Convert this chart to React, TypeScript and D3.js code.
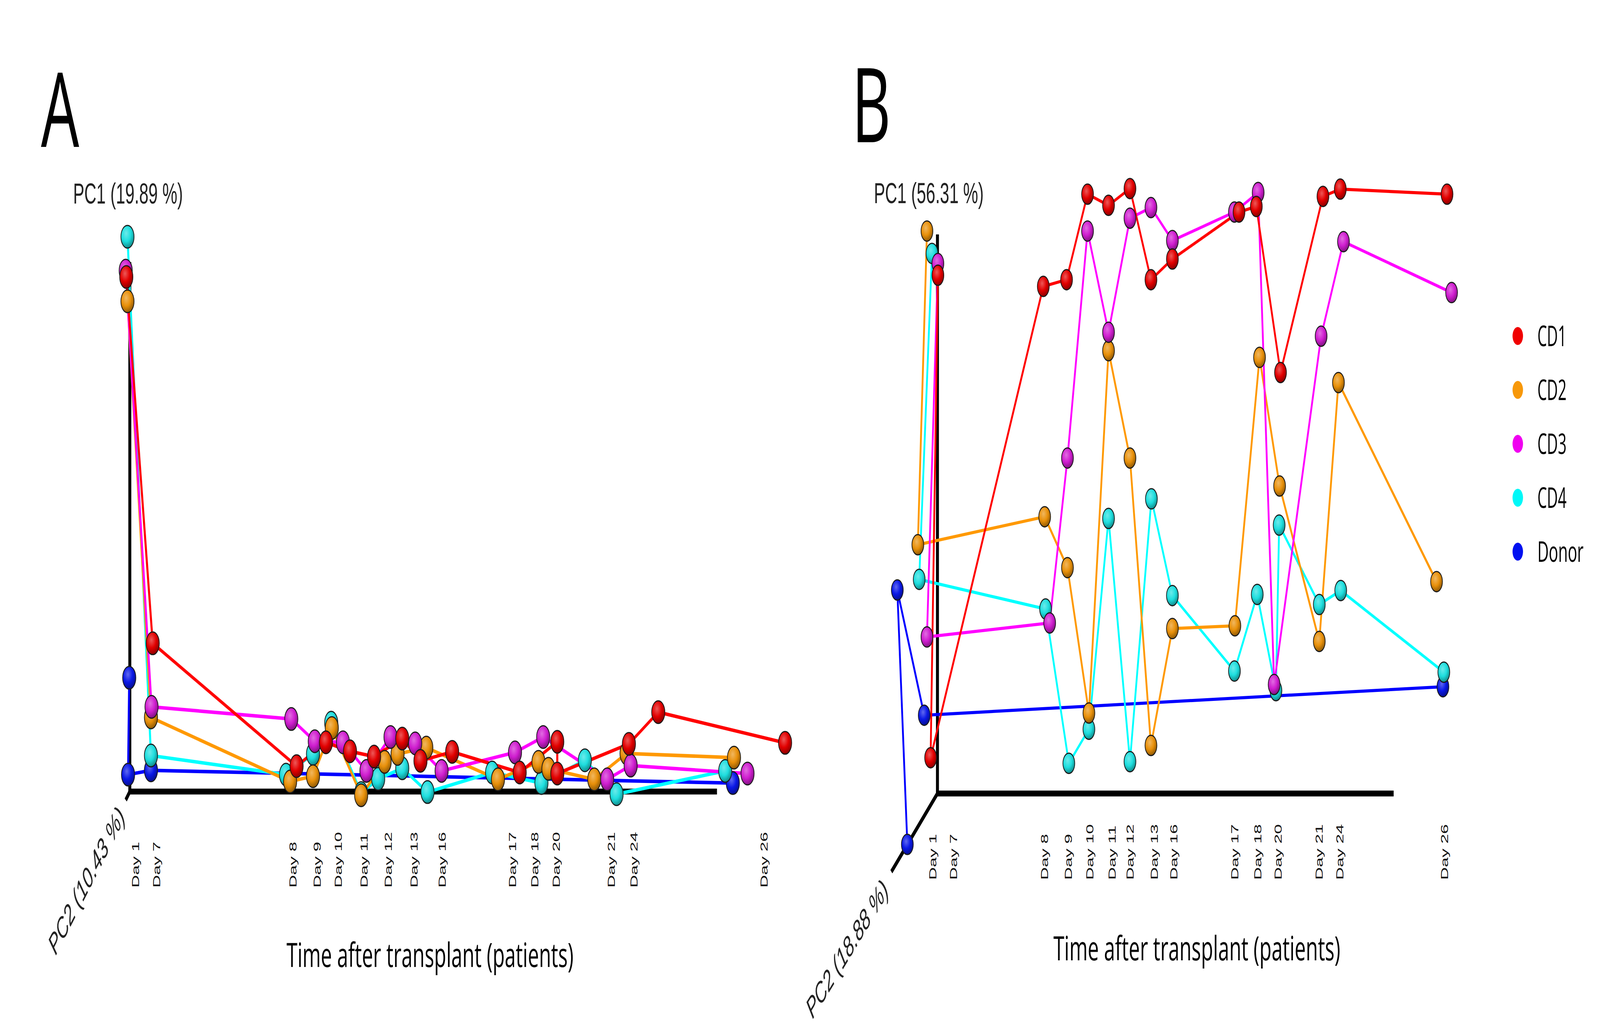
import React from 'react'
import * as d3 from 'd3'

const W = 7025
const H = 2644

// series names and colours
const seriesNames = ['CD1', 'CD2', 'CD3', 'CD4', 'Donor']
const lineColors = ['#ff0000', '#ff9900', '#ff00ff', '#00ffff', '#0000ff']
const markerColors = ['#e20000', '#e8900a', '#d01ed0', '#1edede', '#0a18e6']
const legendColors = ['#f00000', '#f7980a', '#f000f0', '#00f8f8', '#0010f0']

// day tick labels (same for both panels), positions along the time axis
const dayLabels = ['Day 1', 'Day 7', 'Day 8', 'Day 9', 'Day 10', 'Day 11', 'Day 12', 'Day 13', 'Day 16', 'Day 17', 'Day 18', 'Day 20', 'Day 21', 'Day 24', 'Day 26']
const dayPosA = [1.0, 4.6, 27.8, 31.9, 35.5, 39.9, 44.0, 48.4, 53.2, 65.2, 69.0, 72.6, 82.0, 85.9, 108.0]
const dayPosB = [-1.0, 3.5, 23.5, 28.7, 33.4, 38.3, 42.2, 47.5, 51.8, 65.2, 70.2, 74.7, 83.7, 88.2, 111.2]

type Pt = [number, number] // [time-axis position, PC1 score]

// Panel A: PC1 19.89 %, PC2 10.43 %
const cd1A: Pt[] = [[-0.6, 97.2], [3.9, 28.0], [28.4, 4.8], [33.4, 9.3], [37.5, 7.6], [41.6, 6.6], [46.4, 10.0], [49.5, 5.8], [54.9, 7.5], [66.4, 3.6], [72.8, 9.4], [72.8, 3.4], [85.0, 9.0], [90.0, 15.0], [111.6, 9.2]]
const cd2A: Pt[] = [[-0.4, 92.6], [3.6, 14.0], [27.3, 1.9], [31.2, 2.9], [34.4, 12.0], [39.4, -0.7], [43.4, 5.6], [45.6, 7.1], [50.5, 8.3], [62.7, 2.3], [69.6, 5.6], [71.3, 4.3], [79.1, 2.3], [84.6, 7.2], [102.9, 6.4]]
const cd3A: Pt[] = [[-0.7, 98.4], [3.7, 16.0], [27.5, 13.7], [31.5, 9.5], [36.3, 9.3], [40.3, 3.9], [44.4, 10.3], [48.6, 9.1], [53.1, 3.9], [65.6, 7.4], [70.4, 10.3], [81.3, 2.3], [85.3, 4.9], [105.2, 3.4]]
const cd4A: Pt[] = [[-0.4, 104.8], [3.6, 6.8], [26.6, 3.2], [31.2, 7.1], [34.3, 13.0], [39.4, -0.3], [42.3, 2.4], [46.4, 4.4], [50.7, -0.1], [61.7, 3.6], [70.1, 1.6], [77.5, 5.9], [82.9, -0.5], [101.4, 3.9]]
const donorA: Pt[] = [[-0.1, 21.5], [-0.3, 3.2], [3.6, 4.0], [102.7, 1.6]]

// Panel B: PC1 56.31 %, PC2 18.88 %
const cd1B: Pt[] = [[0.1, 92.7], [-1.5, 6.4], [23.2, 90.7], [28.3, 91.9], [32.9, 107.2], [37.5, 105.2], [42.2, 108.2], [46.8, 91.9], [51.5, 95.6], [66.1, 104.0], [69.9, 105.0], [75.2, 75.3], [84.5, 106.8], [88.3, 108.1], [111.7, 107.2]]
const cd2B: Pt[] = [[-2.3, 100.6], [-4.3, 44.5], [23.5, 49.5], [28.5, 40.4], [33.2, 14.4], [37.5, 79.2], [42.2, 60.0], [46.8, 8.6], [51.5, 29.5], [65.2, 30.0], [70.6, 78.0], [75.0, 55.0], [83.7, 27.2], [87.9, 73.5], [109.4, 37.9]]
const cd3B: Pt[] = [[0.1, 94.8], [-2.3, 28.0], [24.6, 30.5], [28.5, 60.0], [32.9, 100.6], [37.5, 82.5], [42.2, 102.9], [46.8, 104.8], [51.5, 98.9], [65.1, 104.0], [70.3, 107.5], [73.8, 19.5], [84.1, 81.8], [89.0, 98.7], [112.7, 89.6]]
const cd4B: Pt[] = [[-1.2, 96.6], [-4.0, 38.3], [23.7, 33.0], [28.8, 5.4], [33.2, 11.5], [37.5, 49.2], [42.2, 5.7], [46.9, 52.7], [51.5, 35.4], [65.1, 21.9], [70.1, 35.6], [74.2, 18.4], [74.9, 48.0], [83.7, 33.8], [88.4, 36.3], [111.0, 21.7]]
const donorB: Pt[] = [[-6.6, -9.1], [-8.8, 36.4], [-2.9, 14.0], [110.8, 19.1]]

// drawing order: back to front
const drawOrder = [4, 3, 1, 2, 0]

interface PanelProps {
  letter: string
  letterX: number
  letterY: number
  xRange: [number, number]
  yRange: [number, number]
  depth: Pt
  series: Pt[][]
  dayPos: number[]
  dayY: number
  r: number
  lw: number
  pc1: string
  pc1X: number
  pc1Y: number
  pc2: string
  pc2X: number
  pc2Y: number
  pc2Angle: number
  titleX: number
  titleY: number
}

const Panel: React.FC<PanelProps> = p => {
  const x = d3.scaleLinear().domain([0, 100]).range(p.xRange)
  const y = d3.scaleLinear().domain([0, 100]).range(p.yRange)
  const line = d3
    .line<Pt>()
    .x(d => x(d[0]))
    .y(d => y(d[1]))

  return (
    <g>
      <text x={p.letterX} y={p.letterY} fontFamily="Open Sans" fontSize={265} fill="#000">
        {p.letter}
      </text>

      {/* axes */}
      <line x1={x(0)} y1={y(0)} x2={x(0)} y2={y(100)} stroke="#000" strokeWidth={13} />
      <line x1={x(0) - 6} y1={y(0)} x2={x(100)} y2={y(0)} stroke="#000" strokeWidth={15} />
      <line x1={x(0)} y1={y(0)} x2={x(p.depth[0])} y2={y(p.depth[1])} stroke="#000" strokeWidth={12} />

      <text x={p.pc1X} y={p.pc1Y} fontFamily="Liberation Sans, Arial" fontSize={75} fill="#222" textLength={482} lengthAdjust="spacingAndGlyphs">
        {p.pc1}
      </text>
      <text
        transform={`translate(${p.pc2X},${p.pc2Y}) rotate(${p.pc2Angle})`}
        textAnchor="middle"
        dominantBaseline="central"
        fontFamily="Liberation Sans, Arial"
        fontStyle="italic"
        fontSize={74}
        fill="#222"
        textLength={470}
        lengthAdjust="spacingAndGlyphs"
      >
        {p.pc2}
      </text>

      {dayLabels.map((d, i) => (
        <text
          key={d}
          transform={`translate(${x(p.dayPos[i])},${p.dayY}) rotate(-90)`}
          dominantBaseline="central"
          fontFamily="Liberation Sans, Arial"
          fontSize={45}
          fill="#111"
        >
          {d}
        </text>
      ))}

      <text
        x={p.titleX}
        y={p.titleY}
        textAnchor="middle"
        fontFamily="Open Sans"
        fontSize={86}
        fill="#000"
        textLength={1260}
        lengthAdjust="spacingAndGlyphs"
      >
        Time after transplant (patients)
      </text>

      {drawOrder.map(k => (
        <path key={`l${k}`} d={line(p.series[k]) || ''} fill="none" stroke={lineColors[k]} strokeWidth={p.lw} strokeLinejoin="round" />
      ))}
      {drawOrder.map(k => (
        <g key={`m${k}`}>
          {p.series[k].map((d, j) => (
            <circle key={j} cx={x(d[0])} cy={y(d[1])} r={p.r} fill={`url(#ball${k})`} stroke="#1a1a1a" strokeWidth={3} />
          ))}
        </g>
      ))}
    </g>
  )
}

export default function App() {
  // the viewBox is stretched over the whole window so the figure fills it
  return (
    <svg
      viewBox={`0 0 ${W} ${H}`}
      preserveAspectRatio="none"
      style={{ position: 'absolute', left: 0, top: 0, width: '100vw', height: '100vh', display: 'block', background: '#fff' }}
    >
      <defs>
        {markerColors.map((c, i) => (
          <radialGradient key={i} id={`ball${i}`} cx="40%" cy="35%" r="65%">
            <stop offset="0%" stopColor={d3.interpolateRgb(c, '#fff')(0.35)} />
            <stop offset="55%" stopColor={c} />
            <stop offset="100%" stopColor={d3.color(c)!.darker(1.3).formatHex()} />
          </radialGradient>
        ))}
      </defs>
      <rect width={W} height={H} fill="#fff" />

      <Panel
        letter="A"
        letterX={180}
        letterY={376}
        xRange={[570, 3148]}
        yRange={[2026, 671]}
        depth={[-0.7, -1.6]}
        series={[cd1A, cd2A, cd3A, cd4A, donorA]}
        dayPos={dayPosA}
        dayY={2272}
        r={29}
        lw={9}
        pc1="PC1 (19.89 %)"
        pc1X={321}
        pc1Y={521}
        pc2="PC2 (10.43 %)"
        pc2X={379}
        pc2Y={2253}
        pc2Angle={-49}
        titleX={1888}
        titleY={2475}
      />
      <Panel
        letter="B"
        letterX={3740}
        letterY={364}
        xRange={[4116, 6119]}
        yRange={[2031, 600]}
        depth={[-10.1, -14.0]}
        series={[cd1B, cd2B, cd3B, cd4B, donorB]}
        dayPos={dayPosB}
        dayY={2252}
        r={26}
        lw={8}
        pc1="PC1 (56.31 %)"
        pc1X={3837}
        pc1Y={520}
        pc2="PC2 (18.88 %)"
        pc2X={3719}
        pc2Y={2428}
        pc2Angle={-44}
        titleX={5255}
        titleY={2458}
      />

      {/* legend */}
      {seriesNames.map((s, i) => (
        <g key={s} transform={`translate(6664,${860 + i * 138})`}>
          <circle r={23} fill={legendColors[i]} />
          <text x={86} y={0} dy="0.35em" fontFamily="Open Sans" fontSize={74} fill="#000" textLength={s === 'Donor' ? 203 : 128} lengthAdjust="spacingAndGlyphs">
            {s}
          </text>
        </g>
      ))}
    </svg>
  )
}
